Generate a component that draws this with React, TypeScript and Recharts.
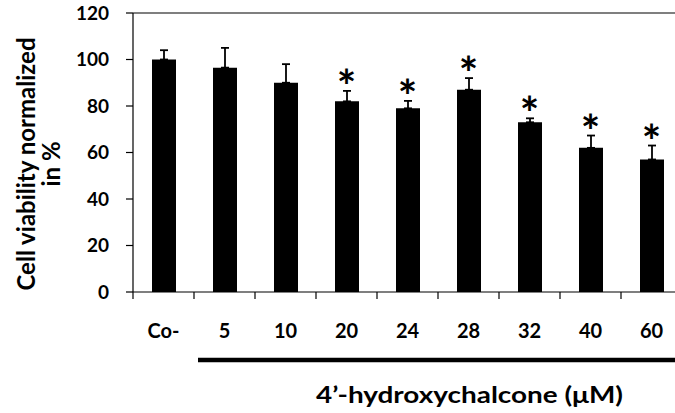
import { ComposedChart, Bar, ErrorBar, Scatter, XAxis, YAxis, ReferenceLine } from "recharts";

const categories = ["Co-", "5", "10", "20", "24", "28", "32", "40", "60"];
const viability = [100, 96.5, 90, 82, 79, 87, 73, 62, 57];
const sdUpper = [4, 8.5, 8, 4.5, 3.2, 5, 1.7, 5.3, 6];
const significant = [false, false, false, true, true, true, true, true, true];
const yTicks = [0, 20, 40, 60, 80, 100, 120];

const data = categories.map((name, i) => ({
  name,
  value: viability[i],
  err: [0, sdUpper[i]],
  star: significant[i] ? viability[i] + sdUpper[i] : null,
}));

const FONT = "Lato, 'Open Sans', sans-serif";
const W = 690;
const H = 413;
const Y_AXIS_W = 133;
const MARGIN = { top: 13, right: 8, bottom: 0, left: 0 };
const BAND = (W - Y_AXIS_W - MARGIN.left - MARGIN.right) / categories.length;

function XTick(props: any) {
  const { x, y, payload } = props;
  const bx = x - BAND / 2;
  return (
    <g>
      <line x1={bx} y1={y} x2={bx} y2={y + 7} stroke="#000" strokeWidth={1.2} />
      <text x={x} y={y + 46} textAnchor="middle" fontFamily={FONT} fontWeight={700} fontSize={20} fill="#000">
        {payload.value}
      </text>
    </g>
  );
}

function XTitle(props: any) {
  const { viewBox } = props;
  const lineY = viewBox.y + 68;
  return (
    <g>
      <line x1={viewBox.x + BAND + 4} y1={lineY} x2={viewBox.x + viewBox.width + 20} y2={lineY} stroke="#000" strokeWidth={4.5} />
      <text
        x={316}
        y={403}
        textLength={307}
        lengthAdjust="spacingAndGlyphs"
        fontFamily={FONT}
        fontWeight={700}
        fontSize={23}
        fill="#000"
      >
        4’-hydroxychalcone (μM)
      </text>
    </g>
  );
}

function YTitle() {
  return (
    <text
      x={35}
      y={164}
      transform="rotate(-90, 35, 164)"
      textAnchor="middle"
      fontFamily={FONT}
      fontWeight={700}
      fontSize={24}
      fill="#000"
    >
      <tspan x={35} dy={0}>Cell viability normalized</tspan>
      <tspan x={35} dy={25}>in %</tspan>
    </text>
  );
}

function Star(props: any) {
  const { cx, cy, payload } = props;
  if (payload.star == null) return <g />;
  return (
    <text x={cx} y={cy + 12} textAnchor="middle" fontFamily={FONT} fontWeight={700} fontSize={46} fill="#000">
      *
    </text>
  );
}

export default function App() {
  return (
    <div style={{ position: "absolute", left: 0, top: 0, width: 675, height: 413, overflow: "hidden", background: "#fff" }}>
      <ComposedChart width={W} height={H} data={data} margin={MARGIN}>
        <ReferenceLine y={120} stroke="#000" strokeWidth={1.2} />
        <XAxis
          dataKey="name"
          height={H - MARGIN.top - 279}
          axisLine={{ stroke: "#000", strokeWidth: 1.2 }}
          tickLine={false}
          tickSize={0}
          tickMargin={0}
          tick={<XTick />}
          interval={0}
          label={<XTitle />}
        />
        <YAxis
          width={Y_AXIS_W}
          domain={[0, 120]}
          ticks={yTicks}
          interval={0}
          axisLine={{ stroke: "#000", strokeWidth: 1.2 }}
          tickLine={{ stroke: "#000", strokeWidth: 1.2 }}
          tickSize={7}
          tickMargin={17}
          tick={{ fontFamily: FONT, fontWeight: 700, fontSize: 19, fill: "#000" }}
          label={<YTitle />}
        />
        <Bar dataKey="value" fill="#000" barSize={24} isAnimationActive={false}>
          <ErrorBar dataKey="err" width={4} stroke="#000" strokeWidth={1.8} isAnimationActive={false} />
        </Bar>
        <Scatter dataKey="star" shape={<Star />} isAnimationActive={false} />
      </ComposedChart>
    </div>
  );
}
